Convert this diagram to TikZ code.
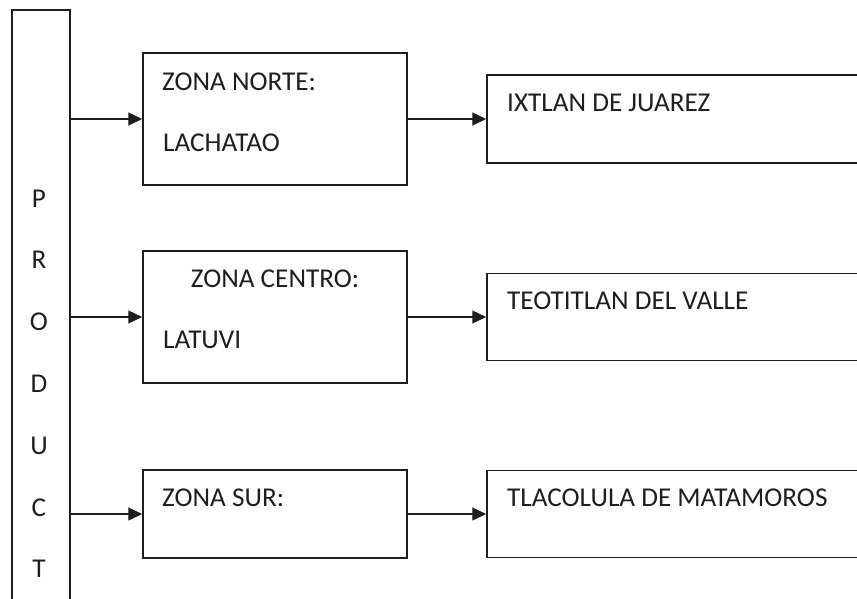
\documentclass[tikz,border=0pt]{standalone}
\usepackage{fontspec}
\setmainfont{Carlito}
\usetikzlibrary{arrows.meta}
\definecolor{ink}{RGB}{30,30,30}
\tikzset{>={Triangle[length=14pt, width=13pt]}}
\tikzset{
    box/.style = {draw=ink, line width=1.5pt, inner sep=0pt},
    zonetext/.style = {text=ink, inner sep=0pt, font=\fontsize{27.2}{32}\selectfont},
    link/.style = {draw=ink, line width=1.3pt, ->}
}

\begin{document}
\begin{tikzpicture}[x=1pt, y=-1pt]
            \clip (0, 0) rectangle (857, 598);
            \node[box, minimum width=58pt, minimum height=700pt, anchor=north] (product) at (41, 9) {};
            \foreach \l [count=\i] in {P, R, O, D, U, C, T} {
                \node[zonetext, anchor=base] (letter\i) at (39, {207 + 61.8 * (\i - 1)}) {\l};
            }
            \node[box, minimum width=264pt, minimum height=132pt] (norte) at (275, 119) {};
            \node[box, minimum width=264pt, minimum height=132pt] (centro) at (275, 317) {};
            \node[box, minimum width=264pt, minimum height=88pt] (sur) at (275, 514) {};
            \node[box, minimum width=413pt, minimum height=88pt] (ixtlan) at (693.5, 119) {};
            \node[box, minimum width=413pt, minimum height=87pt] (teotitlan) at (693.5, 317) {};
            \node[box, minimum width=413pt, minimum height=87pt] (tlacolula) at (693.5, 514) {};
            \node[zonetext, anchor=base west] (nortetitle) at (162, 90) {ZONA NORTE:};
            \node[zonetext, anchor=base west] (nortetown) at (163, 151) {LACHATAO};
            \node[zonetext, anchor=base] (centrotitle) at (275, 287) {ZONA CENTRO:};
            \node[zonetext, anchor=base west] (centrotown) at (163, 348) {LATUVI};
            \node[zonetext, anchor=base west] (surtitle) at (162, 506) {ZONA SUR:};
            \node[zonetext, anchor=base west] (ixtlantext) at (507, 111) {IXTLAN DE JUAREZ};
            \node[zonetext, anchor=base west] (teotitlantext) at (507, 309) {TEOTITLAN DEL VALLE};
            \node[zonetext, anchor=base west] (tlacolulatext) at (507, 506) {TLACOLULA DE MATAMOROS};
            \foreach \z/\t in {norte/ixtlan, centro/teotitlan, sur/tlacolula} {
                \draw[link] (product.east |- \z.west) -- (\z.west);
                \draw[link] (\z.east) -- (\t.west);
            }
        \end{tikzpicture}
\end{document}
